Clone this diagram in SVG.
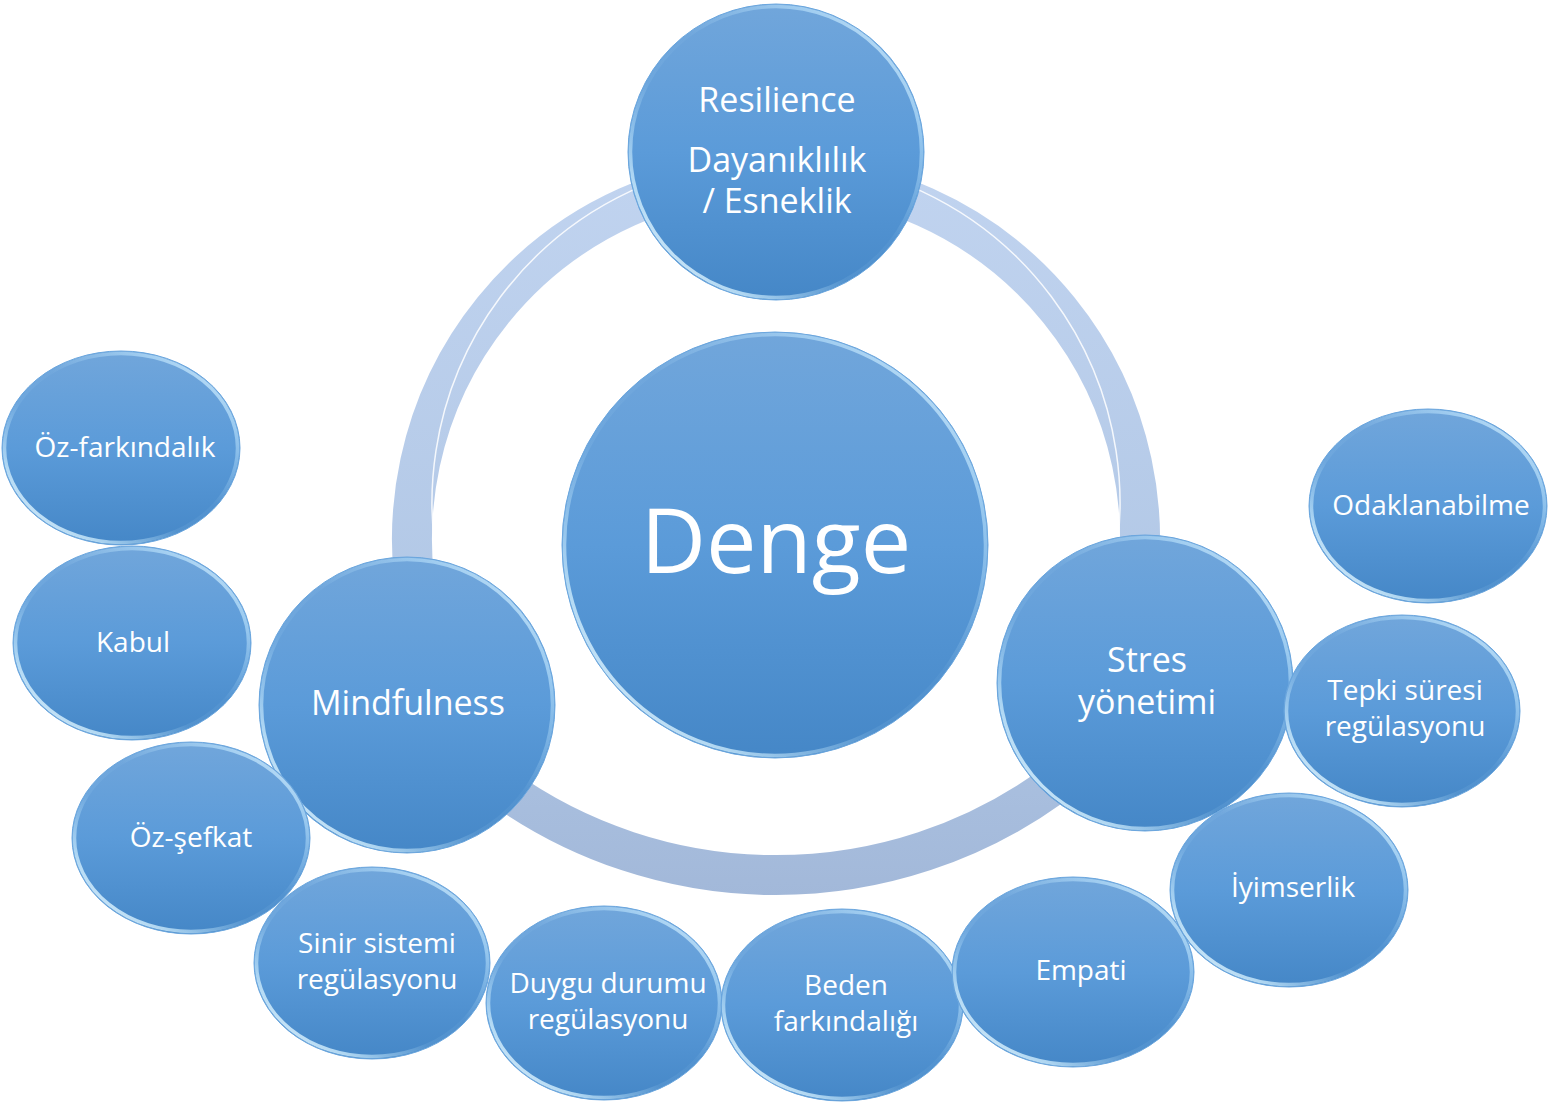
<svg xmlns="http://www.w3.org/2000/svg" width="1554" height="1104" viewBox="0 0 1554 1104">
<defs>
<linearGradient id="fillG" x1="0" y1="0" x2="0" y2="1">
<stop offset="0" stop-color="#71a6db"/>
<stop offset="0.5" stop-color="#5b9bd9"/>
<stop offset="1" stop-color="#4587c7"/>
</linearGradient>
<linearGradient id="rimG" x1="1" y1="0" x2="0" y2="1">
<stop offset="0" stop-color="#e8f8ff" stop-opacity="0.95"/>
<stop offset="0.2" stop-color="#c2e8ff" stop-opacity="0.6"/>
<stop offset="0.45" stop-color="#b9e2fb" stop-opacity="0.05"/>
<stop offset="0.6" stop-color="#b9e2fb" stop-opacity="0.1"/>
<stop offset="0.8" stop-color="#d2f0ff" stop-opacity="0.75"/>
<stop offset="1" stop-color="#f2fbff" stop-opacity="1"/>
</linearGradient>
<linearGradient id="ringG" gradientUnits="userSpaceOnUse" x1="0" y1="180" x2="0" y2="900">
<stop offset="0" stop-color="#c0d3ef"/>
<stop offset="0.6" stop-color="#b2c8e6"/>
<stop offset="1" stop-color="#a2b8d9"/>
</linearGradient>
</defs>
<style>
.node{fill:url(#fillG);stroke:#6aa6de;stroke-width:1}
.rim{fill:none;stroke:url(#rimG);stroke-width:3.5}
.lbl{font-family:"Open Sans","Noto Sans","Liberation Sans",sans-serif;fill:#ffffff;text-anchor:middle}
.s28{font-size:28px}
.s34{font-size:34px}
.ring{fill:none;stroke:url(#ringG);stroke-width:40}
.ringHi{fill:none;stroke:#ffffff;stroke-width:1.5;stroke-opacity:0.85}
</style>
<rect width="1554" height="1104" fill="#ffffff"/>

<g id="connectors">
<path class="ring" d="M 420,615 A 364 364 0 1 1 1132,615"/>
<path class="ring" d="M 500,786 A 472 472 0 0 0 1052,786"/>
<path class="ringHi" d="M 446,600 A 344 344 0 1 1 1106,600"/>
<path class="ringHi" d="M 520,766 A 452 452 0 0 0 1032,766"/>
</g>

<g id="node-resilience">
<circle class="node" cx="776" cy="152" r="148"/>
<circle class="rim" cx="776" cy="152" r="145.5"/>
<text class="lbl s34" x="777" y="112">Resilience</text>
<text class="lbl s34" x="777" y="172">Dayanıklılık</text>
<text class="lbl s34" x="777" y="213">/ Esneklik</text>
</g>

<g id="node-denge">
<circle class="node" cx="775" cy="545" r="213"/>
<circle class="rim" cx="775" cy="545" r="210.5"/>
<text class="lbl" x="776" y="573" style="font-size:90px">Denge</text>
</g>

<g id="node-mindfulness">
<circle class="node" cx="407" cy="705" r="148"/>
<circle class="rim" cx="407" cy="705" r="145.5"/>
<text class="lbl s34" x="408" y="715">Mindfulness</text>
</g>

<g id="node-stres">
<circle class="node" cx="1145" cy="683" r="148"/>
<circle class="rim" cx="1145" cy="683" r="145.5"/>
<text class="lbl s34" x="1147" y="672">Stres</text>
<text class="lbl s34" x="1147" y="714">yönetimi</text>
</g>

<g id="node-ozfarkindalik">
<ellipse class="node" cx="121" cy="448" rx="119" ry="97"/>
<ellipse class="rim" cx="121" cy="448" rx="116.5" ry="94.5"/>
<text class="lbl s28" x="125" y="457">Öz-farkındalık</text>
</g>

<g id="node-kabul">
<ellipse class="node" cx="132" cy="643" rx="119" ry="97"/>
<ellipse class="rim" cx="132" cy="643" rx="116.5" ry="94.5"/>
<text class="lbl s28" x="133" y="652">Kabul</text>
</g>

<g id="node-ozsefkat">
<ellipse class="node" cx="191" cy="838" rx="119" ry="96"/>
<ellipse class="rim" cx="191" cy="838" rx="116.5" ry="93.5"/>
<text class="lbl s28" x="191" y="847">Öz-şefkat</text>
</g>

<g id="node-sinir">
<ellipse class="node" cx="372" cy="963" rx="118" ry="96"/>
<ellipse class="rim" cx="372" cy="963" rx="115.5" ry="93.5"/>
<text class="lbl s28" x="377" y="953">Sinir sistemi</text>
<text class="lbl s28" x="377" y="989">regülasyonu</text>
</g>

<g id="node-duygu">
<ellipse class="node" cx="604" cy="1003" rx="118" ry="97"/>
<ellipse class="rim" cx="604" cy="1003" rx="115.5" ry="94.5"/>
<text class="lbl s28" x="608" y="993">Duygu durumu</text>
<text class="lbl s28" x="608" y="1029">regülasyonu</text>
</g>

<g id="node-beden">
<ellipse class="node" cx="842" cy="1005" rx="121" ry="96"/>
<ellipse class="rim" cx="842" cy="1005" rx="118.5" ry="93.5"/>
<text class="lbl s28" x="846" y="995">Beden</text>
<text class="lbl s28" x="846" y="1031">farkındalığı</text>
</g>

<g id="node-empati">
<ellipse class="node" cx="1073" cy="972" rx="121" ry="95"/>
<ellipse class="rim" cx="1073" cy="972" rx="118.5" ry="92.5"/>
<text class="lbl s28" x="1081" y="980">Empati</text>
</g>

<g id="node-iyimserlik">
<ellipse class="node" cx="1289" cy="890" rx="119" ry="97"/>
<ellipse class="rim" cx="1289" cy="890" rx="116.5" ry="94.5"/>
<text class="lbl s28" x="1293" y="897">İyimserlik</text>
</g>

<g id="node-tepki">
<ellipse class="node" cx="1402" cy="711" rx="118" ry="96"/>
<ellipse class="rim" cx="1402" cy="711" rx="115.5" ry="93.5"/>
<text class="lbl s28" x="1405" y="700">Tepki süresi</text>
<text class="lbl s28" x="1405" y="736">regülasyonu</text>
</g>

<g id="node-odaklanabilme">
<ellipse class="node" cx="1428" cy="506" rx="119" ry="97"/>
<ellipse class="rim" cx="1428" cy="506" rx="116.5" ry="94.5"/>
<text class="lbl s28" x="1431" y="515">Odaklanabilme</text>
</g>
</svg>
